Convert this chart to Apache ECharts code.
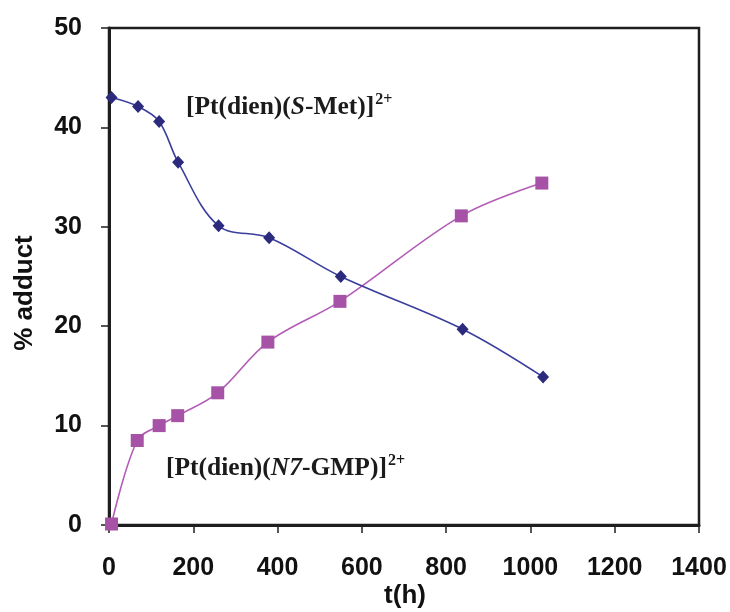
<!DOCTYPE html>
<html>
<head>
<meta charset="utf-8">
<script src="https://cdn.jsdelivr.net/npm/echarts@6/dist/echarts.min.js"></script>
<style>html,body{margin:0;padding:0;background:#fff;}#c{width:730px;height:612px;}</style>
</head>
<body>
<div id="c"></div>
<script>
// Data
const metTimes = [6, 69, 119, 164, 260, 380, 550, 839, 1030];
const metValues = [43.0, 42.1, 40.6, 36.5, 30.1, 28.9, 25.0, 19.7, 14.9];
const gmpTimes = [6, 67, 119, 163, 258, 377, 548, 836, 1027];
const gmpValues = [0.1, 8.5, 10.0, 11.0, 13.3, 18.4, 22.5, 31.1, 34.4];
const xTicks = [0, 200, 400, 600, 800, 1000, 1200, 1400];
const yTicks = [0, 10, 20, 30, 40, 50];
const xTitle = 't(h)';
const yTitle = '% adduct';

const chart = echarts.init(document.getElementById('c'), null, {renderer: 'canvas'});
const sans = '"Liberation Sans", Arial, sans-serif';
const serif = '"Liberation Serif", "Times New Roman", serif';

function pairs(xs, ys) { return xs.map((x, i) => [x, ys[i]]); }

const richStyles = {
  a: {fontFamily: serif, fontWeight: 'bold', fontSize: 25.5, fill: '#1b1b1b', lineHeight: 30},
  i: {fontFamily: serif, fontWeight: 'bold', fontStyle: 'italic', fontSize: 25.5, fill: '#1b1b1b', lineHeight: 30},
  s: {fontFamily: serif, fontWeight: 'bold', fontSize: 16, fill: '#1b1b1b', verticalAlign: 'top', lineHeight: 30, padding: [0, 0, 0, 1]}
};

chart.setOption({
  animation: false,
  backgroundColor: '#fff',
  grid: {left: 109, right: 31, top: 28, bottom: 87, show: true, borderColor: '#1e1e1e', borderWidth: 2.5},
  xAxis: {
    type: 'value', min: xTicks[0], max: xTicks[xTicks.length - 1], interval: 200,
    axisLine: {show: true, onZero: false, lineStyle: {color: '#1e1e1e', width: 3}},
    axisTick: {show: true, inside: false, length: 8, lineStyle: {color: '#1e1e1e', width: 1.5}},
    axisLabel: {margin: 31, fontFamily: sans, fontWeight: 'bold', fontSize: 25, color: '#111',
      formatter: v => String(v)},
    splitLine: {show: false}
  },
  yAxis: {
    type: 'value', min: yTicks[0], max: yTicks[yTicks.length - 1], interval: 10,
    axisLine: {show: true, onZero: false, lineStyle: {color: '#1e1e1e', width: 3}},
    axisTick: {show: true, inside: false, length: 8, lineStyle: {color: '#1e1e1e', width: 1.5}},
    axisLabel: {margin: 27, fontFamily: sans, fontWeight: 'bold', fontSize: 25, color: '#111',
      formatter: v => String(v)},
    splitLine: {show: false}
  },
  series: [
    {
      type: 'line', name: 'S-Met', data: pairs(metTimes, metValues), smooth: 0.35,
      symbol: 'diamond', symbolSize: [12, 13],
      itemStyle: {color: '#2b2a7c'},
      lineStyle: {color: '#3a3f9e', width: 1.6}, z: 3
    },
    {
      type: 'line', name: 'N7-GMP', data: pairs(gmpTimes, gmpValues), smooth: 0.35,
      symbol: 'rect', symbolSize: 13,
      itemStyle: {color: '#a653a7'},
      lineStyle: {color: '#b35cb6', width: 1.6}, z: 2
    }
  ],
  graphic: [
    {
      type: 'text', left: 186, top: 92, z: 10,
      style: {text: '{a|[Pt(dien)(}{i|S}{a|-Met)]}{s|2+}', rich: richStyles}
    },
    {
      type: 'text', left: 166, top: 453, z: 10,
      style: {text: '{a|[Pt(dien)(}{i|N7}{a|-GMP)]}{s|2+}', rich: richStyles}
    },
    {
      type: 'text', x: 405, y: 596, z: 10,
      style: {text: xTitle, fontFamily: sans, fontWeight: 'bold', fontSize: 26, fill: '#111', align: 'center', verticalAlign: 'middle'}
    },
    {
      type: 'text', x: 25, y: 293, rotation: Math.PI / 2, z: 10,
      style: {text: yTitle, fontFamily: sans, fontWeight: 'bold', fontSize: 26, fill: '#111', align: 'center', verticalAlign: 'middle'}
    }
  ]
});
</script>
</body>
</html>
